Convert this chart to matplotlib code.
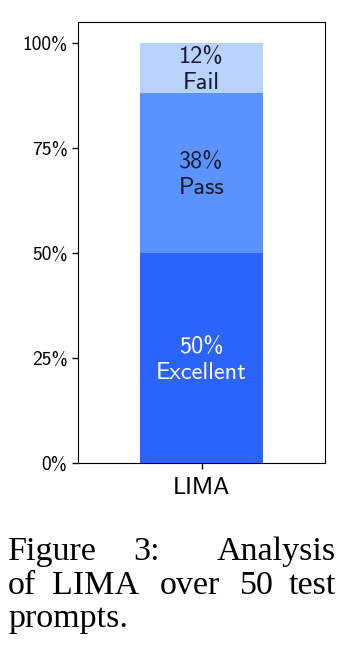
import matplotlib
matplotlib.use("Agg")
import matplotlib.pyplot as plt
from matplotlib.ticker import PercentFormatter

# data
model = "LIMA"
categories = ["Excellent", "Pass", "Fail"]
shares = [50, 38, 12]  # [%] of 50 test prompts
colors = ["#2a64fd", "#5a93fd", "#b8d2fe"]
text_colors = ["white", "#1a1a2e", "#1a1a2e"]

W, H = 345, 657
fig = plt.figure(figsize=(W / 100, H / 100), dpi=100)
ax = fig.add_axes([78 / W, 1 - 463 / H, 247 / W, 441 / H])

sans = ["cmss10", "DejaVu Sans"]

bottom = 0.0
for cat, val, c, tc in zip(categories, shares, colors, text_colors):
	frac = val / 100.0
	ax.bar(0, frac, width=1.0, bottom=bottom, color=c, edgecolor="none")
	ax.text(0, bottom + frac / 2 - 0.005, "%d%%\n%s" % (val, cat), ha="center", va="center",
			color=tc, fontsize=17.5, family=sans, linespacing=1.25)
	bottom += frac

ax.set_xlim(-1, 1)
ax.set_ylim(0, 1.05)
ax.set_xticks([0])
ax.set_xticklabels([model], family=sans, fontsize=17.5)
ax.set_yticks([0, 0.25, 0.5, 0.75, 1.0])
ax.yaxis.set_major_formatter(PercentFormatter(1.0, decimals=0))
for lab in ax.get_yticklabels():
	lab.set_family(sans)
	lab.set_fontsize(14)
ax.tick_params(length=4, width=1)
ax.tick_params(axis="x", pad=6)

# caption, justified by hand
serif = "Liberation Serif"
cap = [
	[("Figure", 8, "left"), ("3:", 133, "left"), ("Analysis", 336, "right")],
	[("of", 8, "left"), ("LIMA", 52, "left"), ("over", 160, "left"),
	 ("50", 240, "left"), ("test", 336, "right")],
	[("prompts.", 8, "left")],
]
baselines = [560, 594, 627]
for words, yb in zip(cap, baselines):
	for w, xp, ha in words:
		fig.text(xp / W, 1 - yb / H, w, ha=ha, va="baseline",
				 family=serif, fontsize=24.5)

fig.savefig("out.png", dpi=100)
